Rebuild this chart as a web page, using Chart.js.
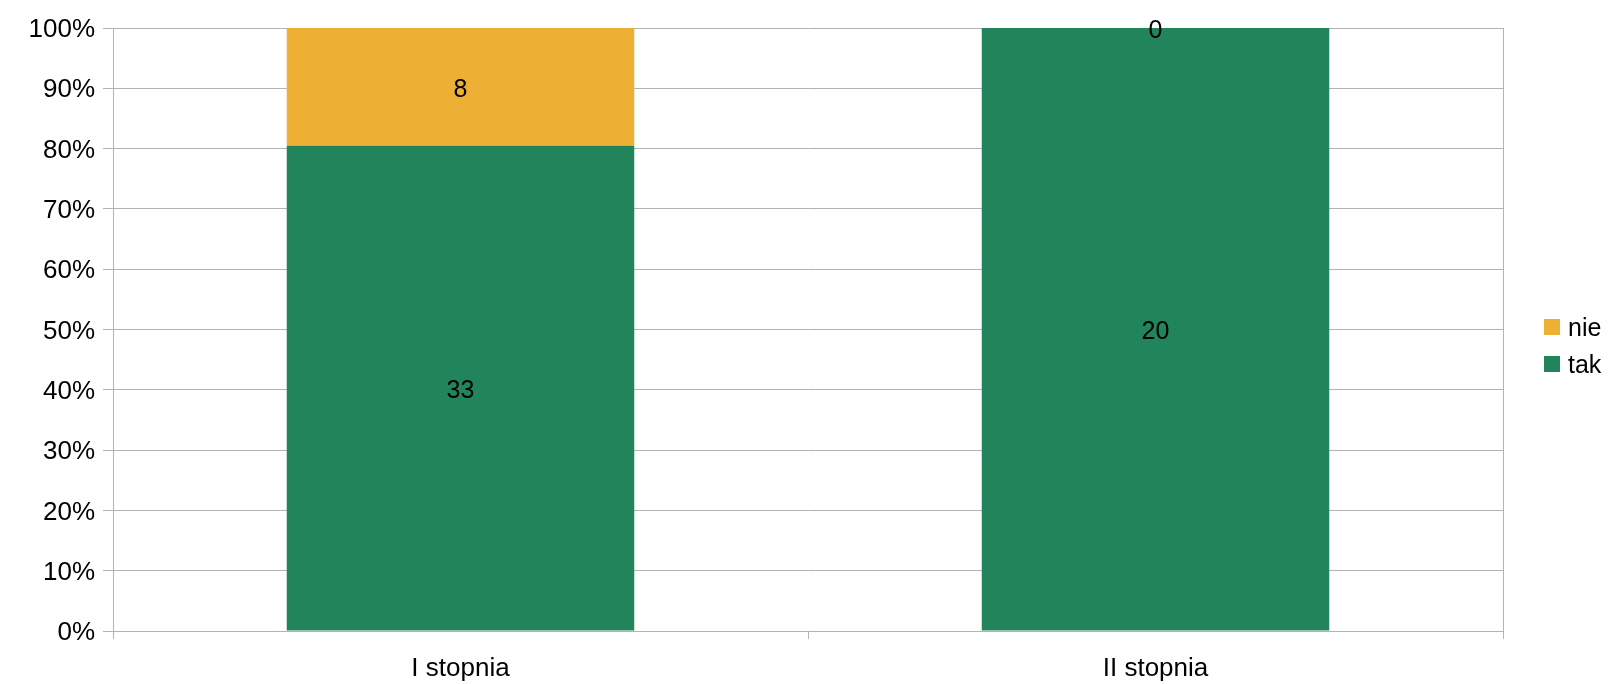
<!DOCTYPE html>
<html>
<head>
<meta charset="utf-8">
<script src="https://cdn.jsdelivr.net/npm/chart.js@4/dist/chart.umd.min.js"></script>
<style>
    html, body { margin: 0; padding: 0; background: #ffffff; }
    #wrap { width: 1612px; height: 684px; }
</style>
</head>
<body>
<div id="wrap"><canvas id="stopnieChart" width="1612" height="684"></canvas></div>
<script>
// Data
const categories = ['I stopnia', 'II stopnia'];
const takCounts = [33, 20];
const nieCounts = [8, 0];
const yTicks = [0, 10, 20, 30, 40, 50, 60, 70, 80, 90, 100];

const FONT = '"Liberation Sans", Arial, sans-serif';
const textColor = '#000000';
const gridColor = '#b3b3b3';

// Convert counts into 100% stacked shares
function toPercent(values, index) {
    const total = takCounts[index] + nieCounts[index];
    return total ? values[index] / total * 100 : 0;
}
const takPercent = categories.map((c, i) => toPercent(takCounts, i));
const niePercent = categories.map((c, i) => toPercent(nieCounts, i));

// Count labels in the middle of each segment
const segmentLabels = {
    id: 'segmentLabels',
    afterDatasetsDraw(chart) {
        const ctx = chart.ctx;
        ctx.save();
        ctx.font = '25px ' + FONT;
        ctx.fillStyle = textColor;
        ctx.textAlign = 'center';
        ctx.textBaseline = 'middle';
        chart.data.datasets.forEach((ds, di) => {
            const meta = chart.getDatasetMeta(di);
            meta.data.forEach((bar, i) => {
                const midY = (bar.y + bar.base) / 2;
                ctx.fillText(String(ds.counts[i]), bar.x, midY + 3);
            });
        });
        ctx.restore();
    }
};

// Right border of the plot area and the side legend
const frameAndLegend = {
    id: 'frameAndLegend',
    afterDraw(chart) {
        const ctx = chart.ctx;
        const area = chart.chartArea;
        ctx.save();
        ctx.strokeStyle = gridColor;
        ctx.lineWidth = 1;
        ctx.beginPath();
        ctx.moveTo(area.right + 0.5, area.top);
        ctx.lineTo(area.right + 0.5, area.bottom + 8);
        ctx.stroke();

        // legend: reversed order (nie above tak)
        const items = chart.data.datasets.slice().reverse();
        ctx.font = '25px ' + FONT;
        ctx.textAlign = 'left';
        ctx.textBaseline = 'middle';
        items.forEach((ds, k) => {
            const cy = 327 + k * 37;
            ctx.fillStyle = ds.backgroundColor;
            ctx.fillRect(1544, cy - 8, 16, 16);
            ctx.fillStyle = textColor;
            ctx.fillText(ds.label, 1568, cy + 2);
        });
        ctx.restore();
    }
};

document.addEventListener('DOMContentLoaded', function() {
    const ctx = document.getElementById('stopnieChart').getContext('2d');
    new Chart(ctx, {
        type: 'bar',
        data: {
            labels: categories,
            datasets: [{
                label: 'tak',
                data: takPercent,
                counts: takCounts,
                backgroundColor: '#22845b'
            },
            {
                label: 'nie',
                data: niePercent,
                counts: nieCounts,
                backgroundColor: '#edb034'
            }]
        },
        options: {
            responsive: false,
            animation: false,
            devicePixelRatio: 1,
            layout: {
                padding: { top: 28, right: 109, left: 0, bottom: 0 }
            },
            plugins: {
                legend: { display: false },
                tooltip: { enabled: false }
            },
            datasets: {
                bar: {
                    barPercentage: 1,
                    categoryPercentage: 0.5,
                    borderWidth: 0
                }
            },
            scales: {
                x: {
                    stacked: true,
                    grid: {
                        offset: true,
                        drawOnChartArea: false,
                        color: gridColor,
                        tickLength: 8
                    },
                    border: { color: gridColor },
                    ticks: {
                        color: textColor,
                        font: { family: FONT, size: 26 },
                        padding: 14
                    },
                    afterFit: function(scale) {
                        scale.height = 53;
                    }
                },
                y: {
                    stacked: true,
                    min: 0,
                    max: 100,
                    afterBuildTicks: function(scale) {
                        scale.ticks = yTicks.map(v => ({ value: v }));
                    },
                    grid: {
                        color: gridColor,
                        tickLength: 10
                    },
                    border: { color: gridColor },
                    ticks: {
                        color: textColor,
                        font: { family: FONT, size: 26 },
                        padding: 8,
                        labelOffset: 2,
                        callback: function(value) {
                            return value + '%';
                        }
                    },
                    afterFit: function(scale) {
                        scale.width = 113;
                    }
                }
            }
        },
        plugins: [segmentLabels, frameAndLegend]
    });
});
</script>
</body>
</html>
